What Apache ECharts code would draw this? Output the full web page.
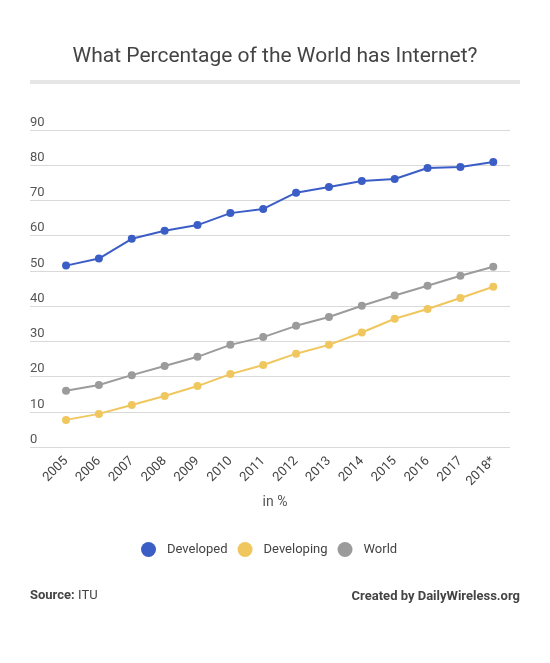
<!DOCTYPE html>
<html>
<head>
<meta charset="utf-8">
<script src="https://cdn.jsdelivr.net/npm/echarts@6/dist/echarts.min.js"></script>
<style>
html,body{margin:0;padding:0;background:#fff;}
#chart{width:550px;height:663px;}
</style>
</head>
<body>
<div id="chart"></div>
<script>
var years = ['2005','2006','2007','2008','2009','2010','2011','2012','2013','2014','2015','2016','2017','2018*'];
var developed = [51.5, 53.5, 59.1, 61.4, 63.0, 66.4, 67.6, 72.2, 73.8, 75.5, 76.1, 79.2, 79.5, 80.9];
var developing = [7.7, 9.4, 11.9, 14.5, 17.3, 20.7, 23.3, 26.5, 29.0, 32.5, 36.4, 39.2, 42.3, 45.5];
var world = [16.0, 17.6, 20.4, 23.0, 25.6, 29.0, 31.2, 34.4, 36.9, 40.1, 43.0, 45.8, 48.6, 51.2];
var yTicks = [0, 10, 20, 30, 40, 50, 60, 70, 80, 90];

var FONT = 'Roboto, "Noto Sans", sans-serif';
var chart = echarts.init(document.getElementById('chart'), null, {renderer: 'canvas'});

function seriesOf(name, data, color) {
  return {
    name: name, type: 'line', data: data, xAxisIndex: 1, yAxisIndex: 1,
    symbol: 'circle', symbolSize: 8, showSymbol: true,
    lineStyle: {color: color, width: 2},
    itemStyle: {color: color},
    animation: false
  };
}

chart.setOption({
  backgroundColor: '#fff',
  textStyle: {fontFamily: FONT},
  animation: false,
  title: {
    text: 'What Percentage of the World has Internet?',
    left: 'center', top: 41,
    textStyle: {fontFamily: FONT, fontSize: 21, fontWeight: 'normal', color: '#444'}
  },
  legend: {
    data: ['Developed', 'Developing', 'World'],
    left: 136, top: 537,
    icon: 'circle', itemWidth: 15, itemHeight: 15, itemGap: 10,
    textStyle: {fontFamily: FONT, fontSize: 13, color: '#444', padding: [0, 0, 0, 6]}
  },
  grid: [
    {left: 30, right: 40, top: 130, bottom: 216},
    {left: 49.6, right: 40.3, top: 130, bottom: 216}
  ],
  xAxis: [
    {gridIndex: 0, type: 'category', data: years, show: false},
    {
      gridIndex: 1, type: 'category', data: years, boundaryGap: true,
      axisLine: {show: false}, axisTick: {show: false},
      axisLabel: {rotate: 45, margin: 12, fontSize: 13, color: '#444', fontFamily: FONT, interval: 0}
    }
  ],
  yAxis: [
    {
      gridIndex: 0, type: 'value', min: 0, max: 90, interval: 10,
      axisLine: {show: false}, axisTick: {show: false},
      splitLine: {lineStyle: {color: '#d9d9d9', width: 1}},
      axisLabel: {
        inside: true, margin: 0, verticalAlign: 'bottom', padding: [0, 0, 1, 0],
        fontSize: 13, color: '#555', fontFamily: FONT,
        formatter: function (v) { return yTicks.indexOf(v) >= 0 ? String(v) : ''; }
      }
    },
    {gridIndex: 1, type: 'value', min: 0, max: 90, interval: 10, show: false, splitLine: {show: false}}
  ],
  series: [
    seriesOf('Developed', developed, '#3b5dc6'),
    seriesOf('Developing', developing, '#f0c75e'),
    seriesOf('World', world, '#9b9b9b')
  ],
  graphic: [
    {type: 'rect', left: 30, top: 80, shape: {width: 490, height: 4}, style: {fill: '#e6e6e6'}},
    {type: 'text', left: 'center', top: 495, style: {text: 'in %', font: '14px ' + FONT, fill: '#555'}},
    {type: 'text', left: 30, top: 589, style: {
      text: '{b|Source:} {n|ITU}',
      rich: {
        b: {fontFamily: FONT, fontSize: 13, fontWeight: 'bold', fill: '#444'},
        n: {fontFamily: FONT, fontSize: 13, fontWeight: 'normal', fill: '#444'}
      }
    }},
    {type: 'text', right: 30, top: 590, style: {text: 'Created by DailyWireless.org', font: 'bold 13px ' + FONT, fill: '#444'}}
  ]
});
</script>
</body>
</html>
